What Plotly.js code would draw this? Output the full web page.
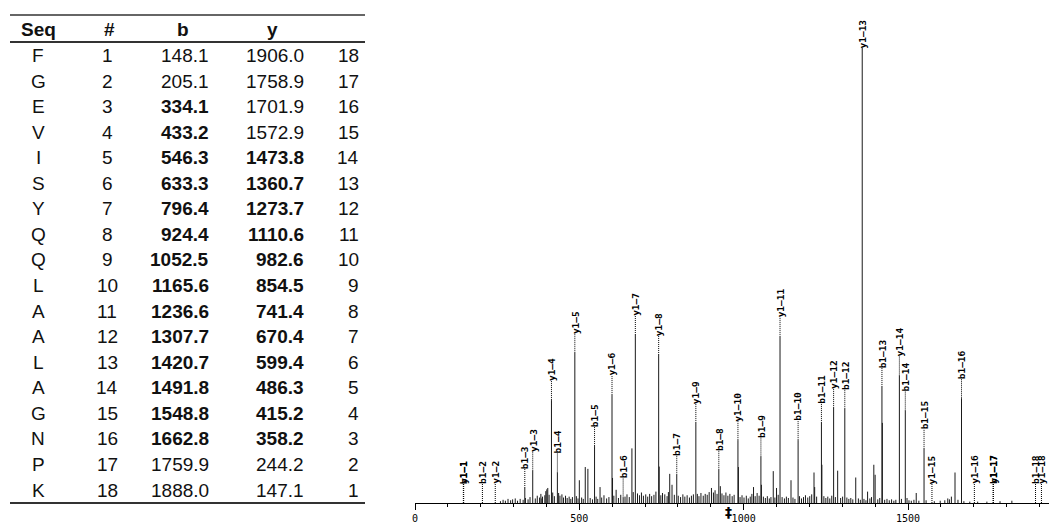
<!DOCTYPE html>
<html>
<head>
<meta charset="utf-8">
<script src="https://cdn.plot.ly/plotly-3.0.1.min.js"></script>
<style>html,body{margin:0;padding:0;background:#fff;}#chart{width:1050px;height:532px;}</style>
</head>
<body>
<div id="chart"></div>
<script>
// ---------- table data ----------
const seq = ['F','G','E','V','I','S','Y','Q','Q','L','A','A','L','A','G','N','P','K'];
const residueNum = [1,2,3,4,5,6,7,8,9,10,11,12,13,14,15,16,17,18];
const bMz = [148.1,205.1,334.1,433.2,546.3,633.3,796.4,924.4,1052.5,1165.6,1236.6,1307.7,1420.7,1491.8,1548.8,1662.8,1759.9,1888.0];
const yMz = [1906.0,1758.9,1701.9,1572.9,1473.8,1360.7,1273.7,1110.6,982.6,854.5,741.4,670.4,599.4,486.3,415.2,358.2,244.2,147.1];
const yNum = [18,17,16,15,14,13,12,11,10,9,8,7,6,5,4,3,2,1];
const bFound = [0,0,1,1,1,1,1,1,1,1,1,1,1,1,1,1,0,0];
const yFound = [0,0,0,0,1,1,1,1,1,1,1,1,1,1,1,1,0,0];
const headers = ['Seq','#','b','y',''];

// ---------- spectrum data (relative intensity, %) ----------
// intensity of each b ion / y ion, in table row order (0 = not observed)
const bIntensity = [0,0,3.3,6.7,12.5,1.2,6.2,7.3,10.2,13.8,17.6,20.7,25.5,20.3,11.9,23.0,0,0];
const yIntensity = [0,0,0,0,28.0,100,20.9,36.5,13.8,17.6,32.5,36.9,23.7,33.0,22.6,7.1,0,0];
// other (unlabelled) peaks
const otherMz  = [386,401,404,500,518,526,563,601,612,660,743,775,782,902,929,984,1030,1054,1090,1100,1144,1214,1216,1238,1286,1341,1377,1396,1400,1422,1525,1621,1632,1643,1740,1780,1816];
const otherInt = [1.0,3.0,3.3,5.0,7.9,7.5,3.5,5.5,2.9,12.0,8.0,6.4,4.0,3.3,3.7,7.9,3.5,4.0,7.0,3.3,5.0,6.7,3.5,8.4,7.1,5.6,2.5,8.4,6.2,17.6,2.2,1.0,1.4,6.7,0.3,0.4,0.5];
// baseline chemical noise
const noiseMz  = [260,268,275,283,291,297,305,312,320,329,336,344,350,366,372,379,383,388,395,398,408,419,424,437,441,447,452,458,463,469,474,479,491,496,507,512,533,540,551,556,568,575,583,590,605,619,626,639,645,652,664,677,683,689,695,702,708,714,720,727,733,748,753,760,767,771,789,801,808,815,821,828,835,841,847,859,864,870,877,883,889,895,908,913,919,934,940,946,952,958,965,971,989,995,1001,1008,1014,1020,1025,1035,1041,1047,1060,1066,1072,1078,1083,1095,1105,1117,1124,1130,1136,1150,1156,1170,1176,1182,1188,1195,1201,1207,1222,1244,1250,1256,1262,1268,1279,1295,1301,1314,1320,1326,1332,1349,1355,1366,1372,1384,1389,1408,1414,1429,1436,1443,1450,1457,1463,1480,1497,1503,1510,1518,1533,1555,1580,1598,1612,1626,1652,1670,1688,1712];
const noiseInt = [0.4,0.7,0.5,0.9,0.6,0.8,1.0,0.5,0.9,0.7,1.1,0.8,1.3,1.0,1.6,1.2,2.0,1.4,1.7,2.6,1.8,2.3,1.5,2.2,1.6,1.9,1.2,1.6,1.1,1.4,0.9,1.3,1.5,1.0,1.2,0.9,1.1,0.8,1.4,0.9,1.2,1.7,1.0,1.3,1.6,1.1,1.8,1.4,1.9,1.3,2.4,2.1,1.7,2.3,1.6,1.9,1.4,2.0,1.5,1.8,2.5,1.7,2.2,1.9,1.5,2.4,1.8,1.6,1.3,1.9,1.4,1.7,1.2,1.6,1.9,2.0,1.5,2.2,1.6,2.0,1.8,2.4,2.3,2.8,2.0,2.1,1.7,2.3,1.6,2.0,1.5,1.8,1.3,1.7,1.2,1.6,1.0,1.4,2.0,1.5,2.2,1.6,1.4,1.1,1.5,1.0,1.3,1.2,1.8,1.3,1.0,1.4,1.1,1.2,0.9,1.5,1.0,1.3,1.7,1.2,1.5,1.9,1.4,1.5,1.1,1.4,1.0,1.6,1.3,1.1,1.4,1.2,0.9,1.1,0.8,1.0,0.7,0.9,0.6,1.0,1.3,0.8,1.1,0.7,0.9,0.6,0.8,0.5,0.7,0.9,1.1,0.6,0.5,0.7,0.5,0.6,0.4,0.5,0.6,0.8,0.7,0.4,0.3,0.3];
const precursorMz = 955;
const xTickVals = [0,500,1000,1500];

// ---------- build ----------
const W = 1050, H = 532;
const mono = 'DejaVu Sans Mono, Liberation Mono, monospace';
const sans = 'Liberation Sans, Arial, sans-serif';
const px = v => v / W;          // pixel x -> paper
const py = v => (H - v) / H;    // pixel y (from top) -> paper

function stems(mz, inten) {
  const x = [], y = [];
  mz.forEach((m, i) => { if (inten[i] > 0) { x.push(m, m, null); y.push(0, inten[i], null); } });
  return {x, y};
}
const allMz = bMz.concat(yMz, otherMz, noiseMz);
const allInt = bIntensity.concat(yIntensity, otherInt, noiseInt);
const st = stems(allMz, allInt);

const traces = [{
  type: 'scatter', mode: 'lines', x: st.x, y: st.y, xaxis: 'x', yaxis: 'y',
  line: {color: '#1a1a1a', width: 1}, hoverinfo: 'skip', showlegend: false
}];

const shapes = [];
const annotations = [];

// ---------- table (drawn as text + rules) ----------
const colX = [38, 107, 209, 304, 359];
const colAnchor = ['center', 'center', 'right', 'right', 'right'];
const headX = [38, 109, 183, 272, 359];
const headerY = 29, firstRowY = 55.5, rowH = 25.56;
const tblFont = {family: sans, size: 19, color: '#111'};
headers.forEach((h, j) => {
  if (!h) return;
  annotations.push({xref: 'paper', yref: 'paper', x: px(headX[j]), y: py(headerY),
    xanchor: 'center', yanchor: 'middle', text: '<b>' + h + '</b>', showarrow: false,
    borderpad: 0, borderwidth: 0, font: tblFont});
});
const bold = (v, f) => f ? '<b>' + v + '</b>' : String(v);
const columns = [
  seq,
  residueNum.map(String),
  bMz.map((v, i) => bold(v.toFixed(1), bFound[i])),
  yMz.map((v, i) => bold(v.toFixed(1), yFound[i])),
  yNum.map(String)
];
columns.forEach((col, j) => {
  col.forEach((txt, i) => {
    annotations.push({xref: 'paper', yref: 'paper', x: px(colX[j]), y: py(firstRowY + i * rowH),
      xanchor: colAnchor[j], yanchor: 'middle', text: txt, showarrow: false,
      borderpad: 0, borderwidth: 0, font: tblFont});
  });
});
[[15, 1.5], [42, 2], [503, 2]].forEach(([yy, w]) => {
  shapes.push({type: 'line', xref: 'paper', yref: 'paper', x0: px(10), x1: px(365),
    y0: py(yy), y1: py(yy), line: {color: '#333', width: w}});
});

// ---------- ion labels ----------
function addLabels(mzArr, intArr, prefix, nums) {
  mzArr.forEach((m, i) => {
    const inten = intArr[i];
    const gap = inten >= 90 ? 0 : 20;
    if (gap > 0) {
      shapes.push({type: 'line', xref: 'x', yref: 'y', ysizemode: 'pixel', yanchor: inten,
        x0: m, x1: m, y0: 0, y1: gap, line: {color: '#000', width: 1, dash: '1px,1px'}});
    }
    annotations.push({x: m, y: inten, xref: 'x', yref: 'y', text: '<b>' + prefix + nums[i] + '</b>',
      showarrow: false, textangle: -90, xanchor: 'center', yanchor: 'bottom', yshift: gap - 1,
      borderpad: 0, borderwidth: 0, font: {family: mono, size: 9.5, color: '#000'}});
  });
}
addLabels(bMz, bIntensity, 'b1–', residueNum);
addLabels(yMz, yIntensity, 'y1–', yNum);

// precursor marker
annotations.push({x: precursorMz, y: 0, xref: 'x', yref: 'y', text: '<b>‡</b>', showarrow: false,
  yanchor: 'middle', yshift: -9, borderpad: 0, borderwidth: 0,
  font: {family: 'DejaVu Sans', size: 14, color: '#000'}});

const layout = {
  width: W, height: H,
  margin: {l: 0, r: 0, t: 0, b: 0},
  paper_bgcolor: '#fff', plot_bgcolor: 'rgba(0,0,0,0)',
  showlegend: false,
  xaxis: {
    domain: [px(415), px(1049)], range: [0, 1929],
    showline: true, linecolor: '#000', linewidth: 1, zeroline: false, showgrid: false,
    ticks: 'outside', ticklen: 6, tickcolor: '#000', tickwidth: 1,
    tickmode: 'array', tickvals: xTickVals,
    minor: {dtick: 100, tick0: 0, ticks: 'outside', ticklen: 3, tickcolor: '#000', showgrid: false},
    tickfont: {family: mono, size: 10, color: '#000'}, fixedrange: true
  },
  yaxis: {
    domain: [py(503), 1], range: [0, 110.5], visible: false, fixedrange: true
  },
  shapes: shapes,
  annotations: annotations
};

Plotly.newPlot('chart', traces, layout, {staticPlot: true, displayModeBar: false});
</script>
</body>
</html>
